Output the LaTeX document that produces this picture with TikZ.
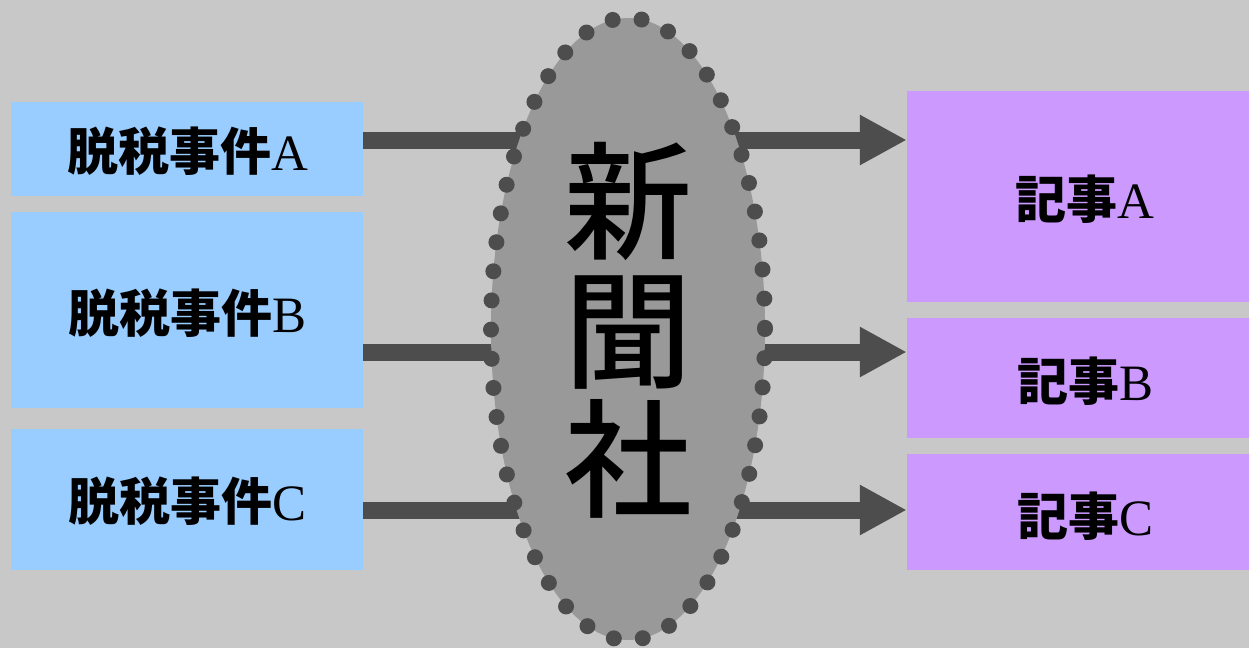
\documentclass[tikz,border=0pt]{standalone}
\usepackage{fontspec}
\setmainfont{Liberation Serif}
\newfontfamily\cjk{Noto Sans CJK JP}
\newfontfamily\cjkm{Noto Sans CJK JP}[BoldFont={Noto Sans CJK JP Medium}]
\usetikzlibrary{arrows.meta}
\definecolor{bg}{HTML}{C8C8C8}
\definecolor{ellfill}{HTML}{999999}
\definecolor{dark}{HTML}{4D4D4D}
\definecolor{lblue}{HTML}{99CCFF}
\definecolor{lpurple}{HTML}{CC99FF}
\tikzset{
  srcbox/.style={fill=lblue, draw=none, inner sep=0pt, minimum width=352pt},
  outbox/.style={fill=lpurple, draw=none, inner sep=0pt, minimum width=342pt},
  lbl/.style={font=\fontsize{51}{51}\selectfont},
  flow/.style={draw=dark, line width=17pt, -{Triangle[length=47pt,width=47pt]}},
  dotring/.style={fill=ellfill, draw=dark, line width=16pt, line cap=round, dash pattern=on 0pt off 29.2pt},
}
\begin{document}
\begin{tikzpicture}[x=1pt,y=-1pt]
\fill[bg] (0,0) rectangle (1249,648);
\useasboundingbox (0,0) rectangle (1249,648);
% source boxes
\node[srcbox, minimum height=94pt] (lA) at (187,149) {};
\node[srcbox, minimum height=196pt] (lB) at (187,310) {};
\node[srcbox, minimum height=141pt] (lC) at (187,499.5) {};
\node[lbl] (tA) at (188,151) {\cjk\bfseries 脱税事件\normalfont A};
\node[lbl] (tB) at (188,313) {\cjk\bfseries 脱税事件\normalfont B};
\node[lbl] (tC) at (188,501) {\cjk\bfseries 脱税事件\normalfont C};
% output boxes
\node[outbox, minimum height=211pt] (rA) at (1078,196.5) {};
\node[outbox, minimum height=120pt] (rB) at (1078,378) {};
\node[outbox, minimum height=116pt] (rC) at (1078,512) {};
\node[lbl] (uA) at (1085,199) {\cjk\bfseries 記事\normalfont A};
\node[lbl] (uB) at (1085,381) {\cjk\bfseries 記事\normalfont B};
\node[lbl] (uC) at (1085,516) {\cjk\bfseries 記事\normalfont C};
% flows
\draw[flow] (lA.east |- 0,140) -- (rA.west |- 0,140);
\draw[flow] (lB.east |- 0,352) -- (rB.west |- 0,352);
\draw[flow] (lC.east |- 0,510) -- (rC.west |- 0,510);
% newspaper company
\path[dotring] (628,329) ellipse [x radius=137, y radius=311];
\node[align=center, inner sep=0pt, font={\fontsize{128}{129}\selectfont\cjkm\bfseries}] (np) at (628,330) {新\\聞\\社};
\end{tikzpicture}
\end{document}
